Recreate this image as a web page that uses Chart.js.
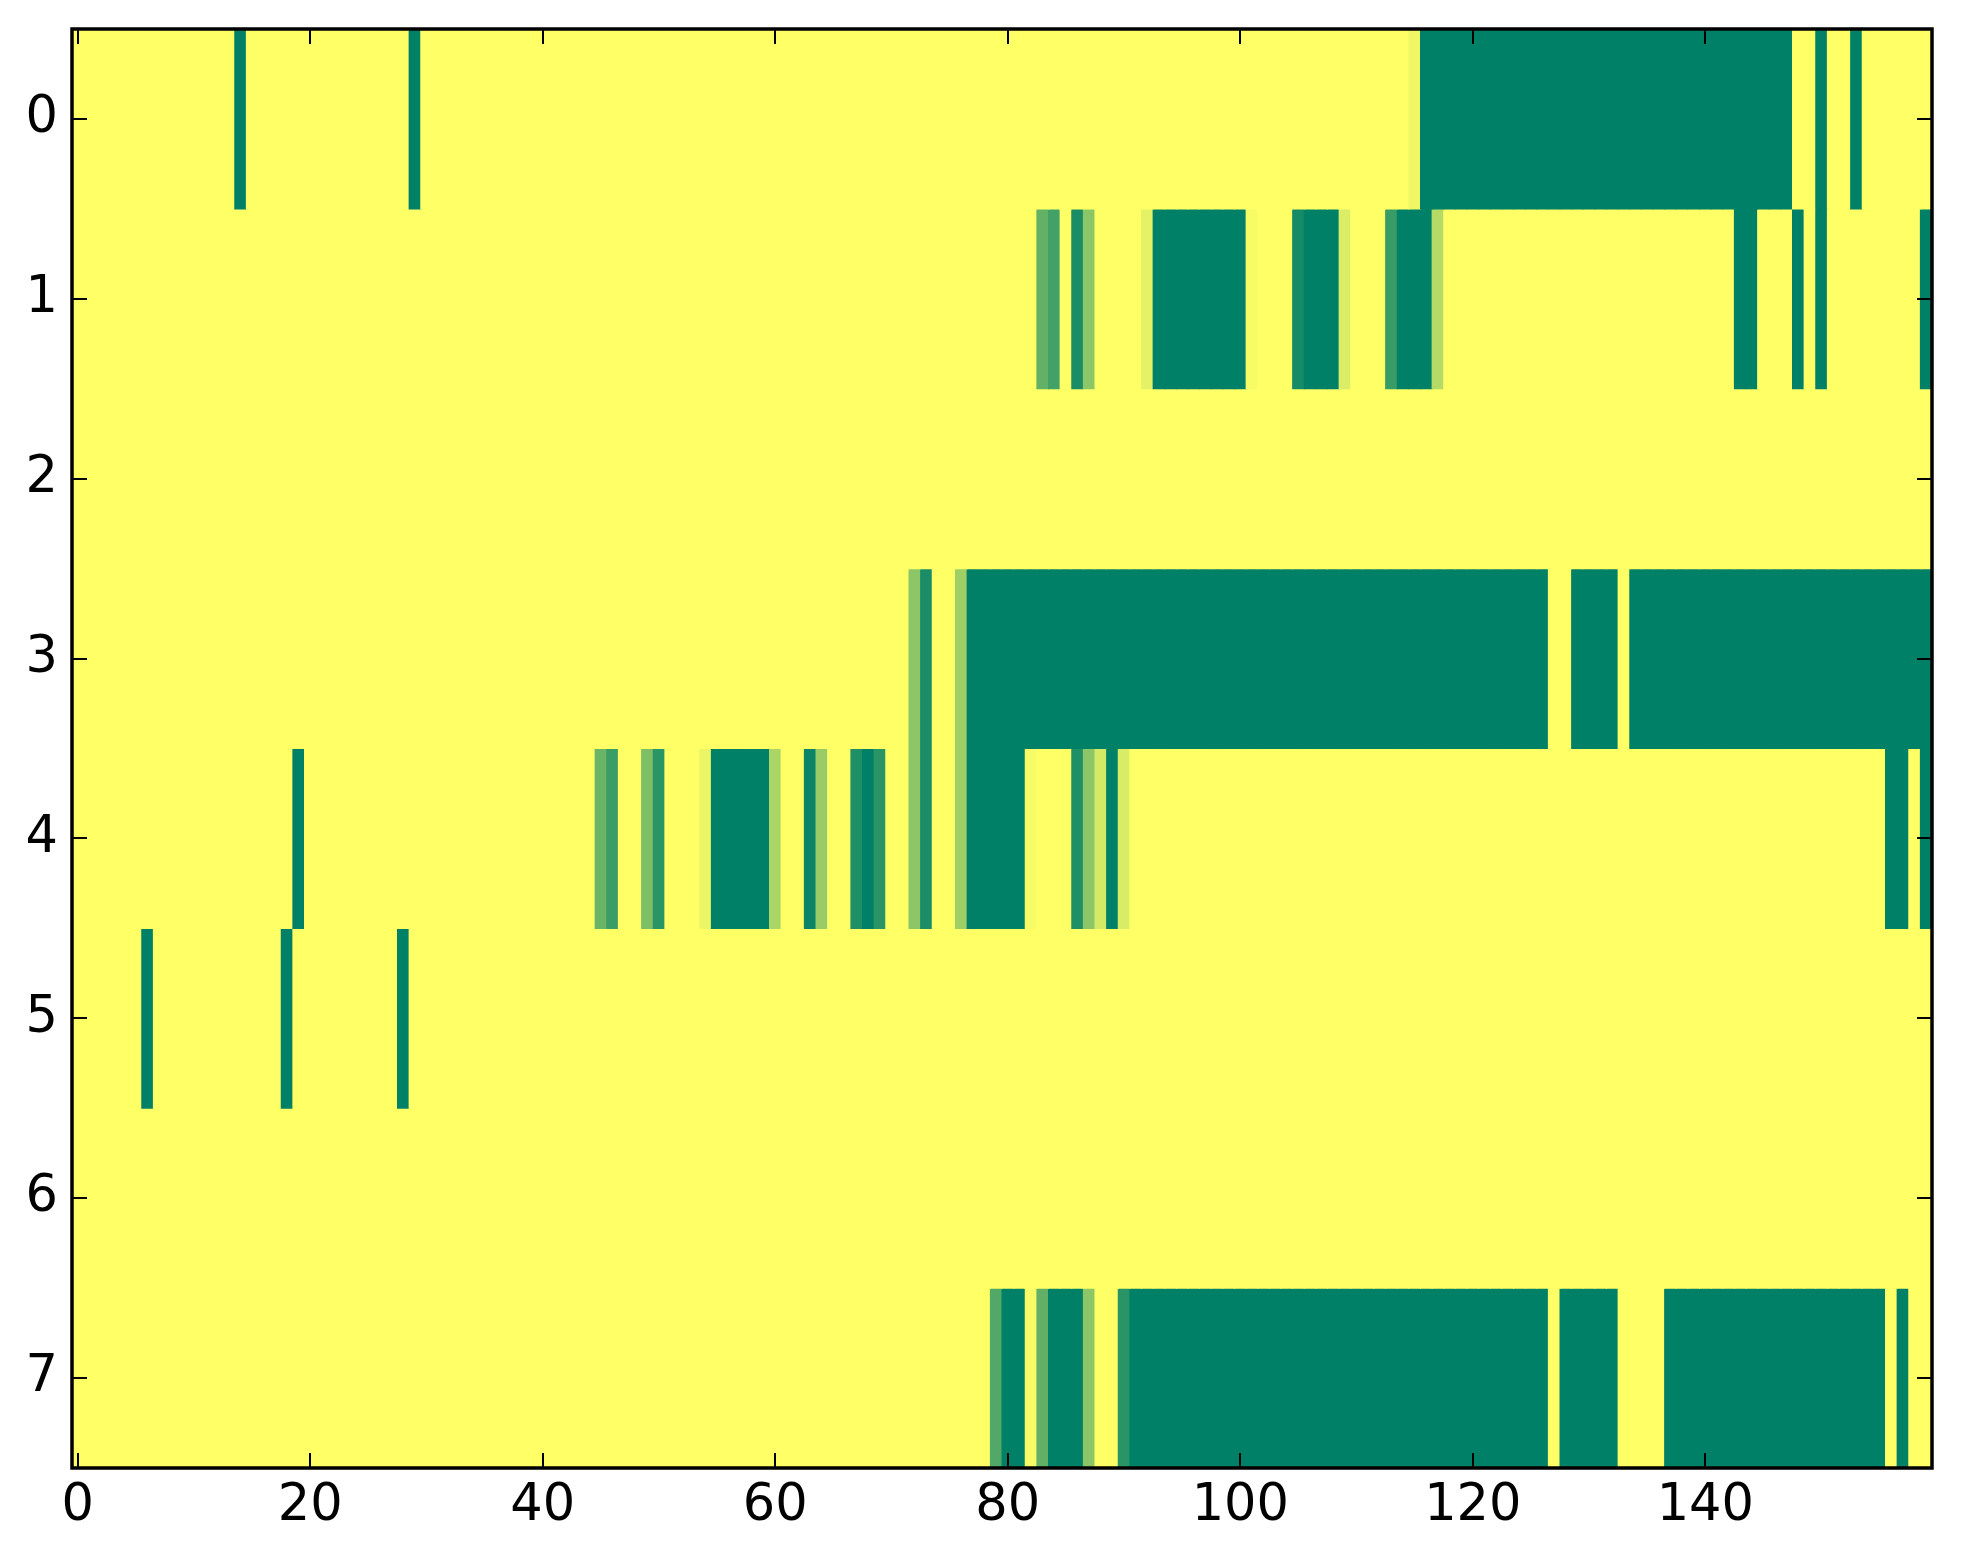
<!DOCTYPE html>
<html>
<head>
<meta charset="utf-8">
<script src="https://cdn.jsdelivr.net/npm/chart.js@4.4.1/dist/chart.umd.min.js"></script>
<style>
html,body{margin:0;padding:0;background:#ffffff;overflow:hidden;}
#wrap{width:1963px;height:1564px;}
canvas{display:block;}
</style>
</head>
<body>
<div id="wrap"><canvas id="c" width="1963" height="1564" style="width:1963px;height:1564px"></canvas></div>
<script>
// Row labels (y axis) and x tick values
const rowLabels = ['0','1','2','3','4','5','6','7'];
const xTickValues = [0,20,40,60,80,100,120,140];

// Cell values per row (160 columns each), 0 = green, 1 = yellow
const row0 = [
1,1,1,1,1,1,1,1,1,1,1,1,1,1,0,1,1,1,1,1,
1,1,1,1,1,1,1,1,1,0,1,1,1,1,1,1,1,1,1,1,
1,1,1,1,1,1,1,1,1,1,1,1,1,1,1,1,1,1,1,1,
1,1,1,1,1,1,1,1,1,1,1,1,1,1,1,1,1,1,1,1,
1,1,1,1,1,1,1,1,1,1,1,1,1,1,1,1,1,1,1,1,
1,1,1,1,1,1,1,1,1,1,1,1,1,1,1,0.94,0,0,0,0,
0,0,0,0,0,0,0,0,0,0,0,0,0,0,0,0,0,0,0,0,
0,0,0,0,0,0,0,0,1,1,0,1,1,0,1,1,1,1,1,1
];
const row1 = [
1,1,1,1,1,1,1,1,1,1,1,1,1,1,1,1,1,1,1,1,
1,1,1,1,1,1,1,1,1,1,1,1,1,1,1,1,1,1,1,1,
1,1,1,1,1,1,1,1,1,1,1,1,1,1,1,1,1,1,1,1,
1,1,1,1,1,1,1,1,1,1,1,1,1,1,1,1,1,1,1,1,
1,1,1,0.39,0.26,1,0.1,0.55,1,1,1,1,0.9,0,0,0,0,0,0,0,
0,0.97,1,1,1,0.09,0,0,0,0.86,1,1,1,0.22,0,0,0,0.71,1,1,
1,1,1,1,1,1,1,1,1,1,1,1,1,1,1,1,1,1,1,1,
1,1,1,0,0,1,1,1,0,1,0,1,1,1,1,1,1,1,1,0
];
const row2 = [
1,1,1,1,1,1,1,1,1,1,1,1,1,1,1,1,1,1,1,1,
1,1,1,1,1,1,1,1,1,1,1,1,1,1,1,1,1,1,1,1,
1,1,1,1,1,1,1,1,1,1,1,1,1,1,1,1,1,1,1,1,
1,1,1,1,1,1,1,1,1,1,1,1,1,1,1,1,1,1,1,1,
1,1,1,1,1,1,1,1,1,1,1,1,1,1,1,1,1,1,1,1,
1,1,1,1,1,1,1,1,1,1,1,1,1,1,1,1,1,1,1,1,
1,1,1,1,1,1,1,1,1,1,1,1,1,1,1,1,1,1,1,1,
1,1,1,1,1,1,1,1,1,1,1,1,1,1,1,1,1,1,1,1
];
const row3 = [
1,1,1,1,1,1,1,1,1,1,1,1,1,1,1,1,1,1,1,1,
1,1,1,1,1,1,1,1,1,1,1,1,1,1,1,1,1,1,1,1,
1,1,1,1,1,1,1,1,1,1,1,1,1,1,1,1,1,1,1,1,
1,1,1,1,1,1,1,1,1,1,1,1,0.55,0.1,1,1,0.62,0,0,0,
0,0,0,0,0,0,0,0,0,0,0,0,0,0,0,0,0,0,0,0,
0,0,0,0,0,0,0,0,0,0,0,0,0,0,0,0,0,0,0,0,
0,0,0,0,0,0,0,1,1,0,0,0,0,1,0,0,0,0,0,0,
0,0,0,0,0,0,0,0,0,0,0,0,0,0,0,0,0,0,0,0
];
const row4 = [
1,1,1,1,1,1,1,1,1,1,1,1,1,1,1,1,1,1,1,0,
1,1,1,1,1,1,1,1,1,1,1,1,1,1,1,1,1,1,1,1,
1,1,1,1,1,0.41,0.23,1,1,0.49,0.16,1,1,1,0.92,0,0,0,0,0,
0.67,1,1,0.04,0.6,1,1,0.12,0,0.16,1,1,0.55,0.1,1,1,0.62,0,0,0,
0,0,0.97,1,1,1,0.12,0.55,0.83,0,0.85,1,1,1,1,1,1,1,1,1,
1,1,1,1,1,1,1,1,1,1,1,1,1,1,1,1,1,1,1,1,
1,1,1,1,1,1,1,1,1,1,1,1,1,1,1,1,1,1,1,1,
1,1,1,1,1,1,1,1,1,1,1,1,1,1,1,1,0,0,1,0
];
const row5 = [
1,1,1,1,1,1,0,1,1,1,1,1,1,1,1,1,1,1,0,1,
1,1,1,1,1,1,1,1,0,1,1,1,1,1,1,1,1,1,1,1,
1,1,1,1,1,1,1,1,1,1,1,1,1,1,1,1,1,1,1,1,
1,1,1,1,1,1,1,1,1,1,1,1,1,1,1,1,1,1,1,1,
1,1,1,1,1,1,1,1,1,1,1,1,1,1,1,1,1,1,1,1,
1,1,1,1,1,1,1,1,1,1,1,1,1,1,1,1,1,1,1,1,
1,1,1,1,1,1,1,1,1,1,1,1,1,1,1,1,1,1,1,1,
1,1,1,1,1,1,1,1,1,1,1,1,1,1,1,1,1,1,1,1
];
const row6 = [
1,1,1,1,1,1,1,1,1,1,1,1,1,1,1,1,1,1,1,1,
1,1,1,1,1,1,1,1,1,1,1,1,1,1,1,1,1,1,1,1,
1,1,1,1,1,1,1,1,1,1,1,1,1,1,1,1,1,1,1,1,
1,1,1,1,1,1,1,1,1,1,1,1,1,1,1,1,1,1,1,1,
1,1,1,1,1,1,1,1,1,1,1,1,1,1,1,1,1,1,1,1,
1,1,1,1,1,1,1,1,1,1,1,1,1,1,1,1,1,1,1,1,
1,1,1,1,1,1,1,1,1,1,1,1,1,1,1,1,1,1,1,1,
1,1,1,1,1,1,1,1,1,1,1,1,1,1,1,1,1,1,1,1
];
const row7 = [
1,1,1,1,1,1,1,1,1,1,1,1,1,1,1,1,1,1,1,1,
1,1,1,1,1,1,1,1,1,1,1,1,1,1,1,1,1,1,1,1,
1,1,1,1,1,1,1,1,1,1,1,1,1,1,1,1,1,1,1,1,
1,1,1,1,1,1,1,1,1,1,1,1,1,1,1,1,1,1,1,0.32,
0,0,0.97,0.38,0,0,0,0.55,1,1,0.16,0,0,0,0,0,0,0,0,0,
0,0,0,0,0,0,0,0,0,0,0,0,0,0,0,0,0,0,0,0,
0,0,0,0,0,0,0,1,0,0,0,0,0,1,1,1,1,0,0,0,
0,0,0,0,0,0,0,0,0,0,0,0,0,0,0,0,1,0,1,1
];

const rows = [row0,row1,row2,row3,row4,row5,row6,row7];

// "summer" colormap
function summer(v){
  const r = Math.round(255*v);
  const g = Math.round(127.5 + 127.5*v);
  return 'rgb(' + r + ',' + g + ',102)';
}

const datasets = rows.map(function(vals, r){
  return {
    label: rowLabels[r],
    data: vals.map(function(v, c){ return {x: c, y: [r - 0.5, r + 0.5]}; }),
    backgroundColor: vals.map(summer),
    borderWidth: 0,
    barPercentage: 1,
    categoryPercentage: 1,
    grouped: false,
    inflateAmount: 0.5
  };
});

const frame = {
  id: 'frame',
  afterDatasetsDraw(chart){
    const ctx = chart.ctx, a = chart.chartArea, xs = chart.scales.x, ys = chart.scales.y;
    ctx.save();
    ctx.strokeStyle = '#000';
    ctx.lineWidth = 2;
    ctx.beginPath();
    xs.ticks.forEach(function(t){
      const px = Math.round(xs.getPixelForValue(t.value));
      ctx.moveTo(px, a.bottom); ctx.lineTo(px, a.bottom - 15);
      ctx.moveTo(px, a.top); ctx.lineTo(px, a.top + 15);
    });
    ys.ticks.forEach(function(t){
      const py = Math.round(ys.getPixelForValue(t.value));
      ctx.moveTo(a.left, py); ctx.lineTo(a.left + 15, py);
      ctx.moveTo(a.right, py); ctx.lineTo(a.right - 15, py);
    });
    ctx.stroke();
    ctx.lineWidth = 3.5;
    ctx.strokeRect(a.left, a.top, a.right - a.left, a.bottom - a.top);
    ctx.restore();
  }
};

const tickFont = {family: 'DejaVu Sans', size: 51};

new Chart(document.getElementById('c'), {
  type: 'bar',
  data: { datasets: datasets },
  options: {
    responsive: false,
    animation: false,
    events: [],
    layout: { padding: { left: 0, right: 31, top: 29, bottom: 0 } },
    plugins: { legend: { display: false }, tooltip: { enabled: false } },
    scales: {
      x: {
        type: 'linear',
        position: 'bottom',
        min: -0.5,
        max: 159.5,
        offset: false,
        grid: { display: false, drawTicks: false },
        border: { display: false },
        afterBuildTicks: function(s){ s.ticks = xTickValues.map(function(v){ return {value: v}; }); },
        afterFit: function(s){ s.height = 96; s.paddingLeft = 0; s.paddingRight = 0; },
        ticks: {
          color: '#000',
          font: tickFont,
          padding: 8,
          maxRotation: 0,
          autoSkip: false,
          callback: function(v){ return String(v); }
        }
      },
      y: {
        type: 'linear',
        position: 'left',
        min: -0.5,
        max: 7.5,
        reverse: true,
        grid: { display: false, drawTicks: false },
        border: { display: false },
        afterBuildTicks: function(s){ s.ticks = rowLabels.map(function(l, i){ return {value: i}; }); },
        afterFit: function(s){ s.width = 72; s.paddingTop = 0; s.paddingBottom = 0; },
        ticks: {
          color: '#000',
          font: tickFont,
          padding: 14,
          autoSkip: false,
          callback: function(v, i){ return rowLabels[i]; }
        }
      }
    }
  },
  plugins: [frame]
});
</script>
</body>
</html>
